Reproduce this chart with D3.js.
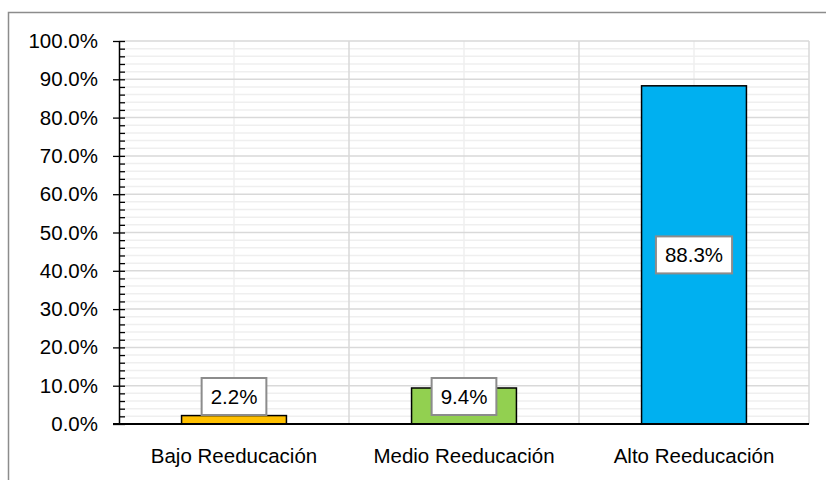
<!DOCTYPE html>
<html>
<head>
<meta charset="utf-8">
<script src="https://cdn.jsdelivr.net/npm/d3@7"></script>
<style>
  body { margin: 0; background: #fff; }
  text { font-family: "Liberation Sans", Arial, sans-serif; }
</style>
</head>
<body>
<div class="chart"></div>
<script>
// data
const categories = ["Bajo Reeducación", "Medio Reeducación", "Alto Reeducación"];
const percentages = [2.2, 9.4, 88.3];
const barColors = ["#FFC000", "#92D050", "#00B0F0"];
const yMajorTicks = [0, 10, 20, 30, 40, 50, 60, 70, 80, 90, 100];
const yMinorTicks = d3.range(0, 101, 2);

const width = 826, height = 480;
const plotLeft = 119, plotRight = 809, plotTop = 41, plotBottom = 424;
const fontSize = 20.5;

const svg = d3.select('.chart')
    .append('svg')
        .attr("width", width)
        .attr("height", height);

// outer chart border (right/bottom fall outside the picture)
svg.append("rect")
    .attr("x", 8.5).attr("y", 12.5)
    .attr("width", 830).attr("height", 480)
    .attr("fill", "none")
    .attr("stroke", "#8c8c8c")
    .attr("stroke-width", 1.5);

const yScale = d3.scaleLinear()
    .domain([0, 100])
    .range([plotBottom, plotTop]);

const xScale = d3.scaleBand()
    .domain(categories)
    .range([plotLeft, plotRight])
    .paddingInner(0.544)
    .paddingOuter(0.272);

const step = xScale.step();
const slotStart = i => plotLeft + i * step;

// minor horizontal gridlines
svg.append("g")
    .selectAll("line")
    .data(yMinorTicks.filter(d => d % 10 !== 0))
    .join("line")
        .attr("x1", plotLeft).attr("x2", plotRight)
        .attr("y1", d => yScale(d)).attr("y2", d => yScale(d))
        .attr("stroke", "#efefef")
        .attr("stroke-width", 1.5);

// minor vertical gridlines (category centres)
svg.append("g")
    .selectAll("line")
    .data(categories)
    .join("line")
        .attr("x1", d => xScale(d) + xScale.bandwidth() / 2)
        .attr("x2", d => xScale(d) + xScale.bandwidth() / 2)
        .attr("y1", plotTop).attr("y2", plotBottom)
        .attr("stroke", "#efefef")
        .attr("stroke-width", 1.5);

// major horizontal gridlines
svg.append("g")
    .selectAll("line")
    .data(yMajorTicks.filter(d => d > 0))
    .join("line")
        .attr("x1", plotLeft).attr("x2", plotRight)
        .attr("y1", d => yScale(d)).attr("y2", d => yScale(d))
        .attr("stroke", "#d9d9d9")
        .attr("stroke-width", 1.5);

// major vertical gridlines (category boundaries)
svg.append("g")
    .selectAll("line")
    .data(d3.range(1, categories.length + 1))
    .join("line")
        .attr("x1", i => slotStart(i)).attr("x2", i => slotStart(i))
        .attr("y1", plotTop).attr("y2", plotBottom)
        .attr("stroke", "#d9d9d9")
        .attr("stroke-width", 1.5);

// bars
svg.selectAll(".bar")
    .data(percentages)
    .join("rect")
        .attr("class", "bar")
        .attr("x", (d, i) => xScale(categories[i]))
        .attr("y", d => yScale(d))
        .attr("width", xScale.bandwidth())
        .attr("height", d => yScale(0) - yScale(d))
        .attr("fill", (d, i) => barColors[i])
        .attr("stroke", "#000")
        .attr("stroke-width", 1.5);

// y axis: minor ticks inside, major ticks outside
const yMinorAxis = d3.axisLeft(yScale)
    .tickValues(yMinorTicks)
    .tickSize(-6)
    .tickFormat("");
svg.append("g")
    .attr("transform", `translate(${plotLeft},0)`)
    .call(yMinorAxis)
    .call(g => g.select(".domain").remove())
    .selectAll("line").attr("stroke", "#000").attr("stroke-width", 1.3);

const yAxis = d3.axisLeft(yScale)
    .tickValues(yMajorTicks)
    .tickSize(6)
    .tickSizeOuter(0)
    .tickPadding(15)
    .tickFormat(d => d.toFixed(1) + "%");
const yAxisG = svg.append("g")
    .attr("transform", `translate(${plotLeft},0)`)
    .call(yAxis);
yAxisG.select(".domain").attr("stroke", "#000").attr("stroke-width", 1.5);
yAxisG.selectAll("line").attr("stroke", "#000").attr("stroke-width", 1.3);
yAxisG.selectAll("text")
    .attr("font-size", fontSize)
    .attr("fill", "#000")
    .attr("font-family", "Liberation Sans, Arial, sans-serif");

// x axis
const xAxis = d3.axisBottom(xScale)
    .tickSize(0)
    .tickSizeOuter(0)
    .tickPadding(24);
const xAxisG = svg.append("g")
    .attr("transform", `translate(0,${plotBottom})`)
    .call(xAxis);
xAxisG.select(".domain").remove();
xAxisG.append("line")
    .attr("x1", plotLeft - 6).attr("x2", plotRight)
    .attr("stroke", "#000")
    .attr("stroke-width", 2);
xAxisG.selectAll(".tick text")
    .attr("font-size", fontSize)
    .attr("fill", "#000")
    .attr("font-family", "Liberation Sans, Arial, sans-serif");

// data labels in boxes
const labelH = 37;
const labels = svg.selectAll(".label")
    .data(percentages)
    .join("g")
        .attr("class", "label")
        .attr("transform", (d, i) => {
            const cx = xScale(categories[i]) + xScale.bandwidth() / 2;
            const cy = Math.min((yScale(d) + yScale(0)) / 2, yScale(0) - 27.5);
            return `translate(${cx},${cy})`;
        });

labels.append("text")
    .attr("text-anchor", "middle")
    .attr("dy", "0.36em")
    .attr("font-size", fontSize)
    .attr("fill", "#000")
    .text(d => d.toFixed(1) + "%");

labels.each(function () {
    const g = d3.select(this);
    const w = g.select("text").node().getComputedTextLength() + 18;
    g.insert("rect", "text")
        .attr("x", -w / 2).attr("y", -labelH / 2)
        .attr("width", w).attr("height", labelH)
        .attr("fill", "#fff")
        .attr("stroke", "#8c8c8c")
        .attr("stroke-width", 2);
});
</script>
</body>
</html>
